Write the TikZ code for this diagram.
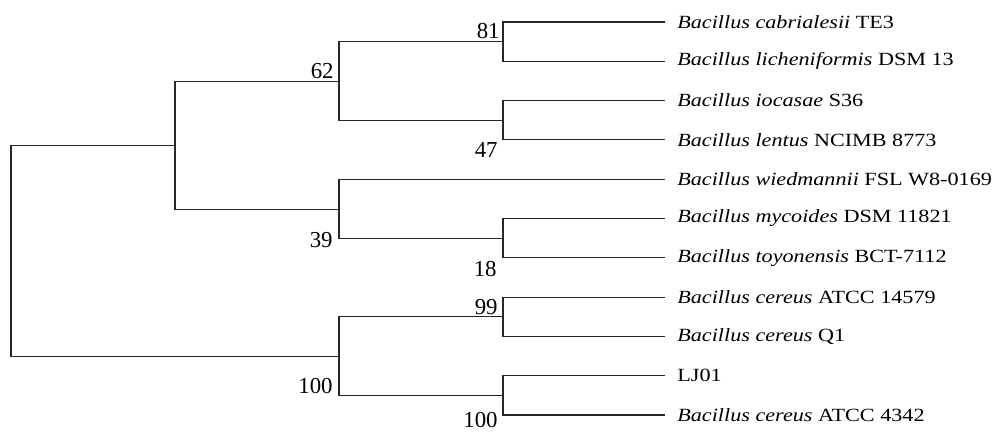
\documentclass[tikz,border=0pt]{standalone}
\usepackage{fontspec}
\setmainfont{Liberation Serif}
\newfontfamily\leaffont[FakeStretch=1.19]{Liberation Serif}
\usetikzlibrary{positioning}

\begin{document}
\begin{tikzpicture}[x=0.02cm,y=-0.02cm]
        \tikzset{
            br/.style={-, draw=black!85, line width=0.65pt},
            leaf/.style={inner sep=0pt, font=\leaffont\fontsize{10.6}{12}\selectfont},
            boot/.style={inner sep=0pt, anchor=base east, font=\fontsize{13}{15}\selectfont}
            }
            \useasboundingbox (0,0) rectangle (992,432);

            % inner nodes
            \coordinate (r) at (11,251);
            \coordinate (a) at (175,145.5);
            \coordinate (b) at (339,81.5);
            \coordinate (c) at (339,209.5);
            \coordinate (g) at (339,356.5);
            \coordinate (d) at (503,41.7);
            \coordinate (e) at (503,120.3);
            \coordinate (f) at (503,238.2);
            \coordinate (h) at (503,316.8);
            \coordinate (k) at (503,395.4);

            % tips
            \coordinate (t1) at (665,22);
            \coordinate (t2) at (665,61.3);
            \coordinate (t3) at (665,100.6);
            \coordinate (t4) at (665,139.9);
            \coordinate (t5) at (665,179.2);
            \coordinate (t6) at (665,218.5);
            \coordinate (t7) at (665,257.8);
            \coordinate (t8) at (665,297.1);
            \coordinate (t9) at (665,336.4);
            \coordinate (t10) at (665,375.7);
            \coordinate (t11) at (665,415);

            \node[leaf, right=0.24cm of t1] (l1) {\textit{Bacillus cabrialesii} TE3};
            \node[leaf, right=0.24cm of t2] (l2) {\textit{Bacillus licheniformis} DSM 13};
            \node[leaf, right=0.24cm of t3] (l3) {\textit{Bacillus iocasae} S36};
            \node[leaf, right=0.24cm of t4] (l4) {\textit{Bacillus lentus} NCIMB 8773};
            \node[leaf, right=0.24cm of t5] (l5) {\textit{Bacillus wiedmannii} FSL W8-0169};
            \node[leaf, right=0.24cm of t6] (l6) {\textit{Bacillus mycoides} DSM 11821};
            \node[leaf, right=0.24cm of t7] (l7) {\textit{Bacillus toyonensis} BCT-7112};
            \node[leaf, right=0.24cm of t8] (l8) {\textit{Bacillus cereus} ATCC 14579};
            \node[leaf, right=0.24cm of t9] (l9) {\textit{Bacillus cereus} Q1};
            \node[leaf, right=0.24cm of t10] (l10) {LJ01};
            \node[leaf, right=0.24cm of t11] (l11) {\textit{Bacillus cereus} ATCC 4342};

            \draw[br] (r) |- (a);
            \draw[br] (r) |- (g);
            \draw[br] (a) |- (b);
            \draw[br] (a) |- (c);
            \draw[br] (b) |- (d);
            \draw[br] (b) |- (e);
            \draw[br] (c) |- (t5);
            \draw[br] (c) |- (f);
            \draw[br] (g) |- (h);
            \draw[br] (g) |- (k);
            \draw[br] (d) |- (t1);
            \draw[br] (d) |- (t2);
            \draw[br] (e) |- (t3);
            \draw[br] (e) |- (t4);
            \draw[br] (f) |- (t6);
            \draw[br] (f) |- (t7);
            \draw[br] (h) |- (t8);
            \draw[br] (h) |- (t9);
            \draw[br] (k) |- (t10);
            \draw[br] (k) |- (t11);

            % bootstrap values
            \node[boot] (v81) at (500,39) {81};
            \node[boot] (v62) at (334,79) {62};
            \node[boot] (v47) at (498,158) {47};
            \node[boot] (v39) at (333,248) {39};
            \node[boot] (v18) at (497,277) {18};
            \node[boot] (v99) at (498,315) {99};
            \node[boot] (v100a) at (333,394) {100};
            \node[boot] (v100b) at (498,428) {100};
        \end{tikzpicture}
\end{document}
